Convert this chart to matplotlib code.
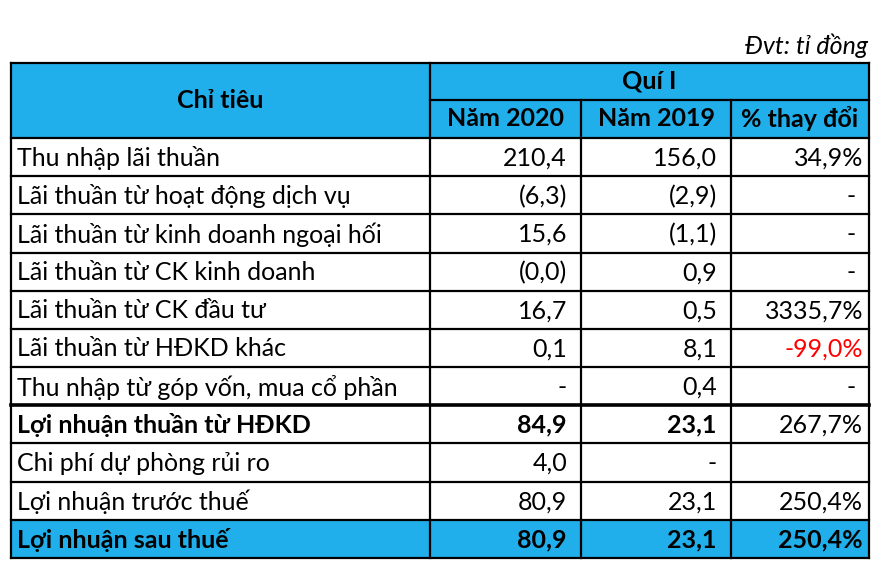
import matplotlib
matplotlib.use("Agg")
import matplotlib.pyplot as plt
from matplotlib.patches import Rectangle

# table content
unit_note = "Đvt: tỉ đồng"
group_head = "Quí I"
first_head = "Chỉ tiêu"
col_heads = ["Năm 2020", "Năm 2019", "% thay đổi"]
labels = [
    "Thu nhập lãi thuần",
    "Lãi thuần từ hoạt động dịch vụ",
    "Lãi thuần từ kinh doanh ngoại hối",
    "Lãi thuần từ CK kinh doanh",
    "Lãi thuần từ CK đầu tư",
    "Lãi thuần từ HĐKD khác",
    "Thu nhập từ góp vốn, mua cổ phần",
    "Lợi nhuận thuần từ HĐKD",
    "Chi phí dự phòng rủi ro",
    "Lợi nhuận trước thuế",
    "Lợi nhuận sau thuế",
]
y2020 = ["210,4", "(6,3)", "15,6", "(0,0)", "16,7", "0,1", "-", "84,9", "4,0", "80,9", "80,9"]
y2019 = ["156,0", "(2,9)", "(1,1)", "0,9", "0,5", "8,1", "0,4", "23,1", "-", "23,1", "23,1"]
pct = ["34,9%", "-", "-", "-", "3335,7%", "-99,0%", "-", "267,7%", "", "250,4%", "250,4%"]
bold_rows = [7, 10]
blue_rows = [10]

BLUE = "#20AFEA"
W, H = 876, 570
plt.rcParams['font.family'] = ['Lato', 'DejaVu Sans']

fig = plt.figure(figsize=(W / 100, H / 100), dpi=100)
ax = fig.add_axes([0, 0, 1, 1])
ax.set_xlim(0, W)
ax.set_ylim(H, 0)
ax.axis('off')

xs = [11, 430, 581, 731, 869]
top, mid, head_bot = 63, 100, 138
row_h = (558 - head_bot) / len(labels)
row_y = [head_bot + i * row_h for i in range(len(labels) + 1)]
fs = 18
lw = 1.6

# fills
ax.add_patch(Rectangle((xs[0], top), xs[-1] - xs[0], head_bot - top, color=BLUE, lw=0))
for r in blue_rows:
    ax.add_patch(Rectangle((xs[0], row_y[r]), xs[-1] - xs[0], row_h, color=BLUE, lw=0))

# grid lines
def hline(y, x0, x1, w=lw):
    ax.plot([x0, x1], [y, y], color='black', lw=w, solid_capstyle='projecting')

def vline(x, y0, y1, w=lw):
    ax.plot([x, x], [y0, y1], color='black', lw=w, solid_capstyle='projecting')

hline(top, xs[0], xs[-1])
hline(mid, xs[1], xs[-1])
for i, y in enumerate(row_y):
    hline(y, xs[0], xs[-1], w=2.6 if i == 7 else lw)
vline(xs[0], top, row_y[-1])
vline(xs[1], top, row_y[-1])
vline(xs[2], mid, row_y[-1])
vline(xs[3], mid, row_y[-1])
vline(xs[4], top, row_y[-1])

# header text
ax.text(868, 46, unit_note, ha='right', va='center', fontsize=fs, style='italic')
ax.text((xs[0] + xs[1]) / 2, (top + head_bot) / 2, first_head, ha='center', va='center',
        fontsize=fs, fontweight='bold')
ax.text((xs[1] + xs[-1]) / 2, (top + mid) / 2, group_head, ha='center', va='center',
        fontsize=fs, fontweight='bold')
for j, h in enumerate(col_heads):
    ax.text((xs[j + 1] + xs[j + 2]) / 2, (mid + head_bot) / 2, h, ha='center', va='center',
            fontsize=fs, fontweight='bold')

# body
pads = [14, 14, 6]
dash_pads = [14, 14, 13]
for i, lab in enumerate(labels):
    yc = row_y[i] + row_h / 2 + 1
    bw = 'bold' if i in bold_rows else 'normal'
    ax.text(17, yc, lab, ha='left', va='center', fontsize=fs, fontweight=bw)
    for j, vals in enumerate([y2020, y2019, pct]):
        v = vals[i]
        if not v:
            continue
        w = bw if (j < 2 or i in blue_rows) else 'normal'
        color = 'red' if v.startswith('-') and len(v) > 1 else 'black'
        pad = dash_pads[j] if v == '-' else pads[j]
        ax.text(xs[j + 2] - pad, yc, v, ha='right', va='center', fontsize=fs,
                fontweight=w, color=color)

fig.savefig('out.png', dpi=100)
